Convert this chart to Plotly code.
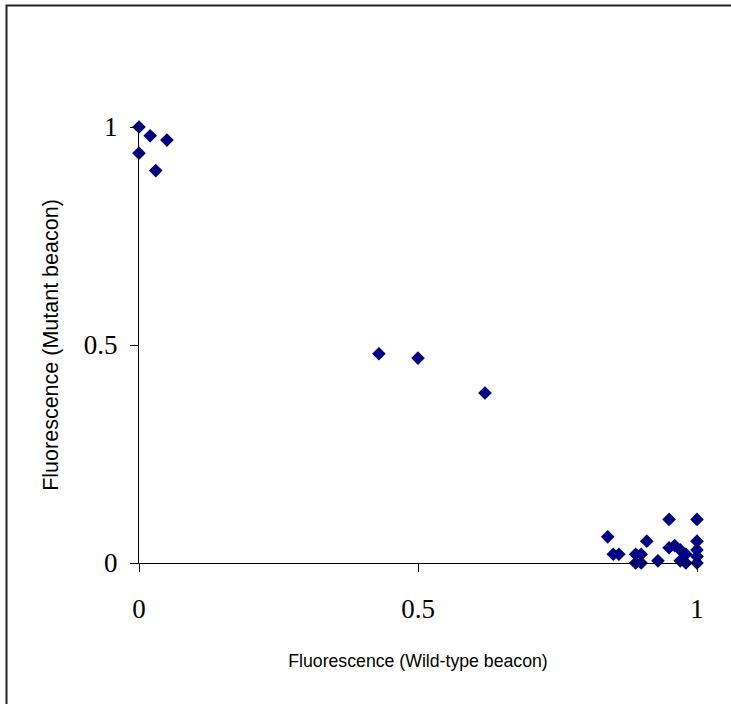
import plotly.graph_objects as go

wild_type = [0.0, 0.02, 0.05, 0.0, 0.03, 0.43, 0.50, 0.62,
             0.84, 0.85, 0.86, 0.89, 0.90, 0.89, 0.90, 0.91, 0.93,
             0.95, 0.95, 0.96, 0.97, 0.97, 0.98, 0.98,
             1.0, 1.0, 1.0, 1.0, 1.0]
mutant = [1.0, 0.98, 0.97, 0.94, 0.90, 0.48, 0.47, 0.39,
          0.06, 0.02, 0.02, 0.02, 0.02, 0.0, 0.0, 0.05, 0.005,
          0.10, 0.035, 0.04, 0.03, 0.005, 0.02, 0.0,
          0.10, 0.05, 0.03, 0.015, 0.0]
tick_vals = [0, 0.5, 1]
tick_text = ["0", "0.5", "1"]

fig = go.Figure()
fig.add_trace(go.Scatter(
    x=wild_type, y=mutant, mode="markers",
    marker=dict(symbol="diamond", size=10.5, color="#000080", line=dict(width=0)),
    cliponaxis=False, showlegend=False,
))

axis_common = dict(
    range=[0, 1], showgrid=False, zeroline=False, showline=True,
    linecolor="#000000", linewidth=1, ticks="outside", ticklen=8,
    tickcolor="#000000", tickvals=tick_vals, ticktext=tick_text,
    tickfont=dict(family="Liberation Serif", size=27, color="#000000"),
)

fig.update_xaxes(**axis_common, ticklabelstandoff=14,
                 title=dict(text="Fluorescence (Wild-type beacon)",
                            font=dict(family="Liberation Sans", size=17.7, color="#000000"),
                            standoff=31))
fig.update_yaxes(**axis_common, ticklabelstandoff=7,
                 title=dict(text="Fluorescence (Mutant beacon)",
                            font=dict(family="Liberation Sans", size=21.5, color="#000000"),
                            standoff=19))

fig.add_shape(type="rect", xref="paper", yref="paper",
              x0=(6.5 - 139) / 558, x1=2.0, y0=-2.0, y1=(563 - 5.5) / 436,
              line=dict(color="#222222", width=2), fillcolor="rgba(0,0,0,0)")

fig.update_layout(
    width=731, height=704,
    margin=dict(l=139, r=34, t=127, b=141),
    paper_bgcolor="white", plot_bgcolor="white",
)

fig.write_html("out.html", config={"displayModeBar": False},
               post_script="document.body.style.margin='0px';document.body.style.overflow='hidden';")
